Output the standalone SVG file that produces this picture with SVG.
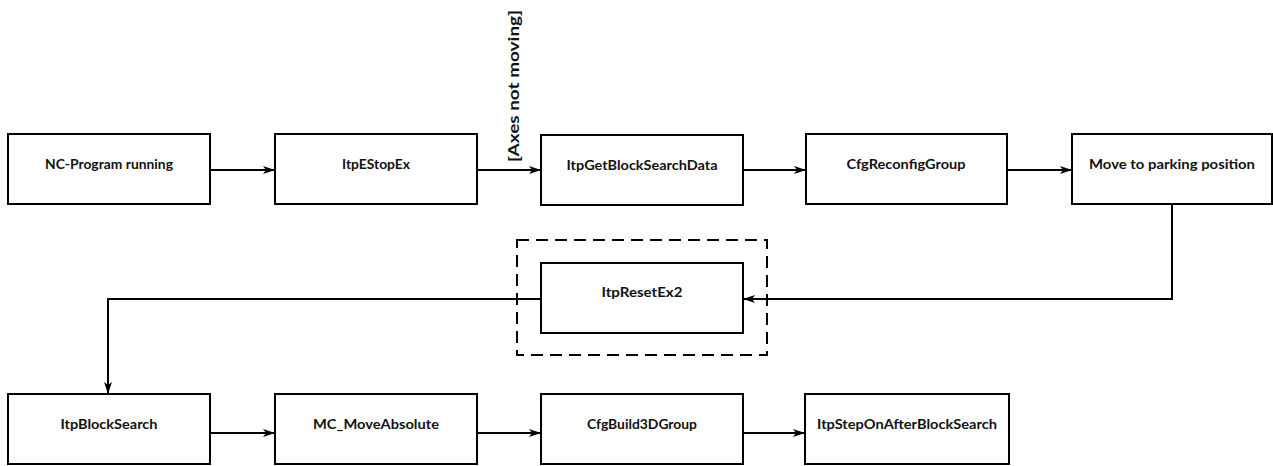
<svg xmlns="http://www.w3.org/2000/svg" width="1273" height="466" viewBox="0 0 1273 466">
<style>
.box{fill:#fff;stroke:#000;stroke-width:2}
.lbl{font-family:Lato,"Liberation Sans",sans-serif;font-weight:bold;font-size:13px;fill:#111;text-anchor:middle}
.con{fill:none;stroke:#000;stroke-width:2}
.dash{fill:none;stroke:#000;stroke-width:2;stroke-dasharray:12 7}
</style>
<defs>
<marker id="arr" viewBox="0 0 12 8" refX="12" refY="4" markerWidth="12" markerHeight="8" markerUnits="userSpaceOnUse" orient="auto">
<path d="M0,0 L12,4 L0,8 L3,4 Z" fill="#000"/>
</marker>
</defs>
<rect width="1273" height="466" fill="#fff"/>
<g id="connectors">
<line class="con" x1="210" y1="170" x2="275" y2="170" marker-end="url(#arr)"/>
<line class="con" x1="477" y1="170" x2="541" y2="170" marker-end="url(#arr)"/>
<line class="con" x1="743" y1="170" x2="806" y2="170" marker-end="url(#arr)"/>
<line class="con" x1="1007" y1="170" x2="1072" y2="170" marker-end="url(#arr)"/>
<polyline class="con" points="1172,204 1172,299 743,299" marker-end="url(#arr)"/>
<polyline class="con" points="541,299 108,299 108,394" marker-end="url(#arr)"/>
<line class="con" x1="210" y1="433" x2="275" y2="433" marker-end="url(#arr)"/>
<line class="con" x1="477" y1="433" x2="541" y2="433" marker-end="url(#arr)"/>
<line class="con" x1="743" y1="433" x2="805" y2="433" marker-end="url(#arr)"/>
<text transform="translate(519,162) rotate(-90)" font-family="Lato,'Liberation Sans',sans-serif" font-weight="bold" font-size="16" fill="#111" textLength="152" lengthAdjust="spacingAndGlyphs">[Axes not moving]</text>
</g>
<g id="n1"><rect class="box" x="8" y="134" width="202" height="70"/><text class="lbl" x="109" y="169" textLength="128" lengthAdjust="spacingAndGlyphs">NC-Program running</text></g>
<g id="n2"><rect class="box" x="275" y="134" width="202" height="70"/><text class="lbl" x="376" y="169" textLength="68" lengthAdjust="spacingAndGlyphs">ItpEStopEx</text></g>
<g id="n3"><rect class="box" x="541" y="135" width="202" height="70"/><text class="lbl" x="642" y="170" textLength="151" lengthAdjust="spacingAndGlyphs">ItpGetBlockSearchData</text></g>
<g id="n4"><rect class="box" x="806" y="134" width="201" height="70"/><text class="lbl" x="906" y="169" textLength="119" lengthAdjust="spacingAndGlyphs">CfgReconfigGroup</text></g>
<g id="n5"><rect class="box" x="1072" y="134" width="200" height="70"/><text class="lbl" x="1172" y="169" textLength="166" lengthAdjust="spacingAndGlyphs">Move to parking position</text></g>
<g id="g1"><rect class="dash" x="517" y="240" width="250" height="115"/></g>
<g id="n6"><rect class="box" x="541" y="263" width="202" height="70"/><text class="lbl" x="642" y="297" textLength="81" lengthAdjust="spacingAndGlyphs">ItpResetEx2</text></g>
<g id="n7"><rect class="box" x="8" y="394" width="202" height="70"/><text class="lbl" x="109" y="429" textLength="97" lengthAdjust="spacingAndGlyphs">ItpBlockSearch</text></g>
<g id="n8"><rect class="box" x="275" y="394" width="202" height="70"/><text class="lbl" x="376" y="429" textLength="126" lengthAdjust="spacingAndGlyphs">MC_MoveAbsolute</text></g>
<g id="n9"><rect class="box" x="541" y="394" width="202" height="70"/><text class="lbl" x="642" y="429" textLength="110" lengthAdjust="spacingAndGlyphs">CfgBuild3DGroup</text></g>
<g id="n10"><rect class="box" x="805" y="394" width="204" height="70"/><text class="lbl" x="907" y="429" textLength="180" lengthAdjust="spacingAndGlyphs">ItpStepOnAfterBlockSearch</text></g>
</svg>
